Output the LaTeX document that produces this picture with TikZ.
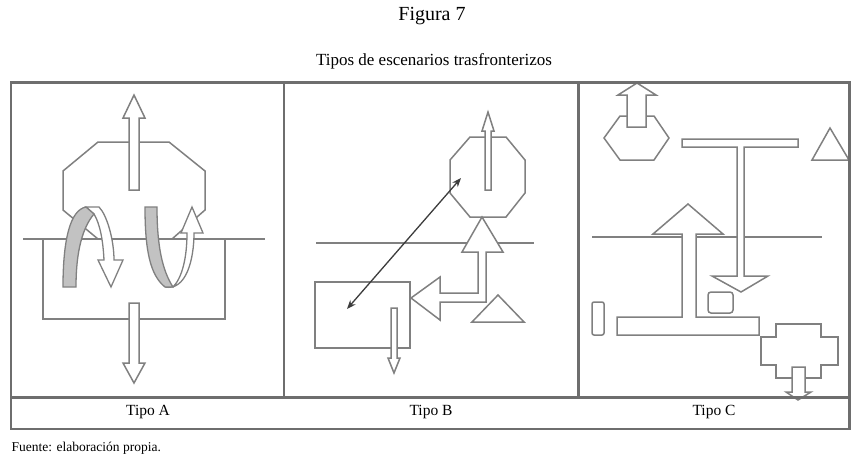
\documentclass[tikz,border=0pt]{standalone}
\usepackage{fontspec}
\setmainfont{Liberation Serif}
\usetikzlibrary{arrows.meta}
\definecolor{ShapeGray}{HTML}{808080}
\definecolor{FrameGray}{HTML}{6E6E6E}
\definecolor{BandGray}{HTML}{C2C2C2}
\definecolor{LinkGray}{HTML}{3C3C3C}
\tikzset{
    % Shape styles
    outline/.style={
        draw=ShapeGray,
        fill=white,
        line width=1.5pt,
        line join=miter
    },
    bandshape/.style={
        draw=ShapeGray,
        fill=BandGray,
        line width=1.3pt
    },
    borderline/.style={
        draw=ShapeGray,
        line width=1.5pt
    },
    frame/.style={
        draw=FrameGray,
        line width=2.2pt
    },
    % Arrow styles
    linkarrow/.style={
        {Stealth[length=9pt,width=7pt]}-{Stealth[length=9pt,width=7pt]},
        draw=LinkGray,
        line width=1.3pt
    },
    % Text styles
    captiontext/.style={
        anchor=base,
        inner sep=0pt
    }
}

\begin{document}
\begin{tikzpicture}[x=1pt,y=-1pt]
    \useasboundingbox (0,0) rectangle (857,456);

    % Titles
    \node[captiontext,font=\fontsize{20}{24}\selectfont] (figtitle) at (432,20.7) {Figura 7};
    \node[captiontext,font=\fontsize{17}{20}\selectfont] (subtitle) at (434,65) {Tipos de escenarios trasfronterizos};

    % Tipo A
    \draw[outline] (98,142) -- (169,142) -- (205,171) -- (205,210) -- (172,239)
        -- (98,239) -- (63,210) -- (63,171) -- cycle;
    \draw[borderline] (23,239) -- (265,239);
    \draw[borderline] (43,239) -- (43,319) -- (225,319) -- (225,239);
    \draw[outline,line width=1.3pt] (86,207) -- (99,207) .. controls (107,215) and (114,240) .. (114,260)
        -- (123,260) -- (111,287) -- (98,260) -- (104,260)
        .. controls (103,240) and (100,224) .. (94,214) -- cycle;
    \draw[bandshape] (63,287) .. controls (63,240) and (70,210) .. (86,207)
        -- (94,214) .. controls (83,227) and (76,250) .. (76,287) -- cycle;
    \draw[outline,line width=1.3pt] (165,287) .. controls (186,291) and (194,260) .. (194,233)
        -- (203,233) -- (192,207) -- (181,233) -- (187,233)
        .. controls (187,258) and (182,278) .. (173,287) -- cycle;
    \draw[bandshape] (145,207) -- (157,207) .. controls (157,245) and (162,270) .. (173,287)
        -- (165,287) .. controls (150,275) and (145,250) .. (145,207) -- cycle;
    \draw[outline] (129,190) -- (129,118) -- (123,118) -- (134,95) -- (145,118)
        -- (139,118) -- (139,190) -- cycle;
    \draw[outline] (129,303) -- (129,363) -- (123,363) -- (134,383) -- (145,363)
        -- (139,363) -- (139,303) -- cycle;

    % Tipo B
    \draw[outline] (470,137) -- (506,137) -- (525,160) -- (525,193) -- (506,217)
        -- (470,217) -- (450,193) -- (450,160) -- cycle;
    \draw[outline] (485,190) -- (485,131) -- (482,131) -- (488,112) -- (494,131)
        -- (491,131) -- (491,190) -- cycle;
    \draw[borderline] (316,243) -- (534,243);
    \draw[outline] (315,282) rectangle (410,348);
    \draw[outline] (482,217) -- (503,252) -- (486,252) -- (486,302) -- (440,302)
        -- (440,320) -- (411,298) -- (440,277) -- (440,293) -- (478,293)
        -- (478,252) -- (462,252) -- cycle;
    \draw[outline] (498,295) -- (524,322) -- (472,322) -- cycle;
    \draw[outline] (391,308) -- (391,358) -- (388,358) -- (394,373) -- (400,358)
        -- (397,358) -- (397,308) -- cycle;
    \coordinate (linkin) at (347,309);
    \coordinate (linkout) at (461,178);
    \draw[linkarrow] (linkin) -- (linkout);

    % Tipo C
    \draw[borderline] (592,237) -- (822,237);
    \draw[outline] (604,138) -- (620,116) -- (654,116) -- (669,138) -- (654,160)
        -- (620,160) -- cycle;
    \draw[outline] (627,127) -- (627,95) -- (618,95) -- (637,83) -- (656,95)
        -- (646,95) -- (646,127) -- cycle;
    \draw[outline] (682,139) -- (798,139) -- (798,147) -- (744,147) -- (744,276)
        -- (768,276) -- (741,292) -- (712,276) -- (737,276) -- (737,147)
        -- (682,147) -- cycle;
    \draw[outline] (830,128) -- (849,160) -- (812,160) -- cycle;
    \draw[outline] (688,204) -- (723,234) -- (696,234) -- (696,317) -- (759,317)
        -- (759,335) -- (617,335) -- (617,317) -- (682,317) -- (682,234)
        -- (653,234) -- cycle;
    \draw[outline,rounded corners=3pt] (708,292) rectangle (733,313);
    \draw[outline,rounded corners=2pt] (592,302) rectangle (604,335);
    \draw[outline] (776,324) -- (821,324) -- (821,337) -- (838,337) -- (838,365)
        -- (821,365) -- (821,378) -- (776,378) -- (776,365) -- (761,365)
        -- (761,337) -- (776,337) -- cycle;
    \draw[outline] (792,367) -- (792,392) -- (786,392) -- (798,400) -- (811,392)
        -- (805,392) -- (805,367) -- cycle;

    % Table frame
    \draw[frame] (10.7,82.5) rectangle (849.5,429);
    \draw[frame] (10.7,397.5) -- (849.5,397.5);
    \draw[frame] (284,82.5) -- (284,397.5);
    \draw[frame] (578.5,82.5) -- (578.5,397.5);

    % Labels
    \node[captiontext,font=\fontsize{15.5}{18}\selectfont] (tipoa) at (148,415.7) {Tipo A};
    \node[captiontext,font=\fontsize{15.5}{18}\selectfont] (tipob) at (431,415.7) {Tipo B};
    \node[captiontext,font=\fontsize{15.5}{18}\selectfont] (tipoc) at (714,415.7) {Tipo C};
    \node[captiontext,anchor=base west,font=\fontsize{13.5}{16}\selectfont] (source) at (11.5,451) {Fuente: elaboración propia.};
\end{tikzpicture}
\end{document}
